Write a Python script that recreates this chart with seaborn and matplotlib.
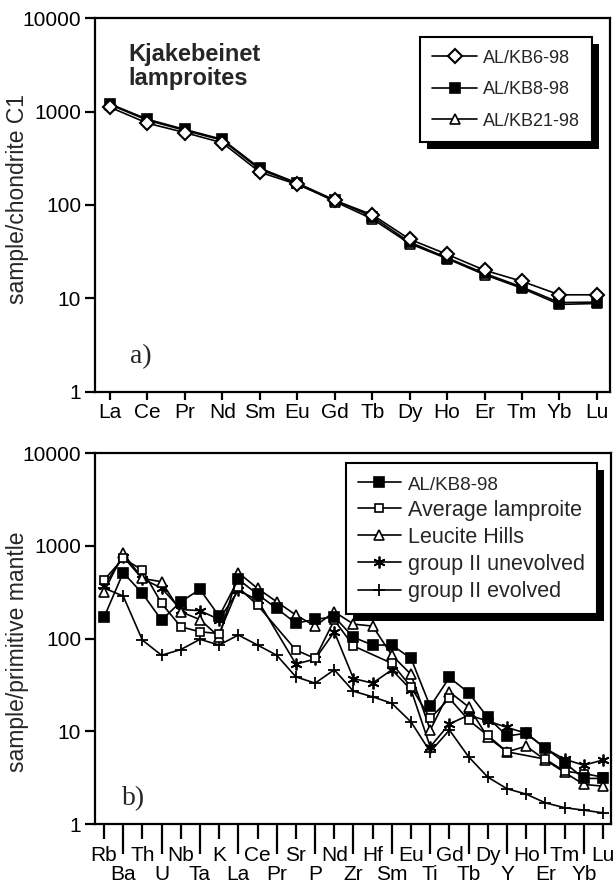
import numpy as np
import pandas as pd
import matplotlib
matplotlib.use("Agg")
import matplotlib.pyplot as plt
import seaborn as sns
from matplotlib.patches import Rectangle
from matplotlib.ticker import FixedLocator, NullLocator

# ---------------- data ----------------
ree = ["La", "Ce", "Pr", "Nd", "Sm", "Eu", "Gd", "Tb", "Dy", "Ho", "Er", "Tm", "Yb", "Lu"]
kb6_98 = [1116, 753, 597, 464, 225, 166, 112, 78.7, 43, 29.6, 20, 15.2, 10.9, 10.9]
kb8_98 = [1210, 830, 645, 505, 248, 172, 113, 75, 40, 27.2, 18.5, 13.2, 9.0, 9.1]
kb21_98 = [1190, 810, 630, 495, 240, 170, 109, 71, 38.6, 26.6, 17.9, 12.8, 8.6, 8.8]

spider = ["Rb", "Ba", "Th", "U", "Nb", "Ta", "K", "La", "Ce", "Pr", "Sr", "P", "Nd", "Zr",
          "Hf", "Sm", "Eu", "Ti", "Gd", "Tb", "Dy", "Y", "Ho", "Er", "Tm", "Yb", "Lu"]
kb8_pm = [169, 513, 306, 158, 249, 338, 174, 434, 300, 211, 146, 161, 171, 103,
          85, 85, 61, 18.5, 38, 26, 14.1, 8.9, 9.5, 6.6, 4.6, 3.1, 3.1]
avg_lamproite = [427, 730, 546, 239, 134, 118, 113, 355, 229, np.nan, 75, 61, 158, 83,
                 np.nan, 54, 30, 13.8, 22.6, 13.2, 9.0, 6.0, np.nan, 5.0, 3.7, 3.5, 3.2]
leucite_hills = [319, 826, 444, 409, 194, 160, 104, 512, 347, 249, 179, 136, 194, 143,
                 136, 66, 41, 10.3, 26.6, 18.3, 8.6, 6.0, 6.9, 4.9, 3.6, 2.67, 2.56]
group2_unevolved = [370, 760, 440, 350, 205, 200, 160, 330, 260, np.nan, 53, 60, 118, 37,
                    33, 46, 28, 6.8, 12, 14.9, 12.9, 11, 9.5, 6.5, 5.0, 4.3, 4.9]
group2_evolved = [350, 287, 96, 66, 76, 98, 85, 109, 85, 66, 38.6, 33, 46, 27,
                  23.5, 20, 12.6, 6.0, 10.3, 5.3, 3.2, 2.4, 2.1, 1.69, 1.5, 1.41, 1.32]

ytick_vals = [1, 10, 100, 1000, 10000]
ytick_labels = ["1", "10", "100", "1000", "10000"]

# ---------------- style ----------------
sns.set_style("ticks")
plt.rcParams["font.family"] = ["Liberation Sans", "DejaVu Sans"]
plt.rcParams["axes.linewidth"] = 1.6

W, H = 614, 886
fig = plt.figure(figsize=(W / 100, H / 100), dpi=100)

def px_axes(left, top, right, bottom):
    return fig.add_axes([left / W, 1 - bottom / H, (right - left) / W, (bottom - top) / H])

ax1 = px_axes(95, 18.4, 610, 391.6)
ax2 = px_axes(95, 453, 611, 824)

def draw(ax, cats, vals, label, marker, ms, mfc, mew=1.2, lw=1.2):
    df = pd.DataFrame({"x": np.arange(len(cats)), "y": vals}).dropna()
    sns.lineplot(data=df, x="x", y="y", ax=ax, color="black", sort=False,
                 marker=marker, markersize=ms, markerfacecolor=mfc,
                 markeredgecolor="black", markeredgewidth=mew, linewidth=lw,
                 label=label, legend=False)
    return ax.lines[-1]

asterisk = (6, 2, 0)

# ---------------- panel a ----------------
h21 = draw(ax1, ree, kb21_98, "AL/KB21-98", "^", 7.5, "white")
h8 = draw(ax1, ree, kb8_98, "AL/KB8-98", "s", 6.5, "black")
h6 = draw(ax1, ree, kb6_98, "AL/KB6-98", "D", 7, "white", mew=1.5)

# ---------------- panel b ----------------
hev = draw(ax2, spider, group2_evolved, "group II evolved", "+", 8, "black", mew=1.3)
hun = draw(ax2, spider, group2_unevolved, "group II unevolved", asterisk, 8.5, "black", mew=1.3)
hlh = draw(ax2, spider, leucite_hills, "Leucite Hills", "^", 7, "white")
hav = draw(ax2, spider, avg_lamproite, "Average lamproite", "s", 5.5, "white")
hkb = draw(ax2, spider, kb8_pm, "AL/KB8-98", "s", 7, "black")

for ax in (ax1, ax2):
    ax.set_yscale("log")
    ax.set_ylim(1, 10000)
    ax.yaxis.set_major_locator(FixedLocator(ytick_vals))
    ax.yaxis.set_minor_locator(NullLocator())
    ax.set_yticklabels(ytick_labels)
    ax.set_xlabel("")
    for s in ax.spines.values():
        s.set_linewidth(1.6)
        s.set_color("black")
    ax.tick_params(axis="y", which="major", direction="out", length=7.5, width=1.6,
                   pad=2.5, labelsize=15, colors="black")

# x axis panel a
ax1.set_xlim(-0.4, 13.35)
ax1.set_xticks(np.arange(len(ree)))
ax1.set_xticklabels(ree)
ax1.xaxis.set_minor_locator(NullLocator())
ax1.tick_params(axis="x", which="major", direction="out", length=6, width=1.6,
                pad=2, labelsize=15, colors="black")

# x axis panel b: two rows of labels
ax2.set_xlim(-0.47, 26.42)
even = np.arange(0, len(spider), 2)
odd = np.arange(1, len(spider), 2)
ax2.set_xticks(even)
ax2.set_xticklabels([spider[i] for i in even])
ax2.set_xticks(odd, minor=True)
ax2.set_xticklabels([spider[i] for i in odd], minor=True)
ax2.tick_params(axis="x", which="major", direction="out", length=10.5, width=1.6,
                pad=5, labelsize=15, colors="black")
ax2.tick_params(axis="x", which="minor", direction="out", length=21.5, width=1.6,
                pad=8, labelsize=15, colors="black")

ax1.set_ylabel("sample/chondrite C1", fontsize=16.5)
ax2.set_ylabel("sample/primitive mantle", fontsize=16.5)
ax1.yaxis.set_label_coords(-0.128, 0.515)
ax2.yaxis.set_label_coords(-0.128, 0.465)

# annotations
ax1.text(0.065, 0.935, "Kjakebeinet\nlamproites", transform=ax1.transAxes,
         fontsize=17, fontweight="bold", va="top", ha="left", linespacing=1.1)
ax1.text(0.068, 0.06, "a)", transform=ax1.transAxes, fontsize=20,
         family=["Liberation Serif", "DejaVu Serif"], va="bottom", ha="left")
ax2.text(0.053, 0.035, "b)", transform=ax2.transAxes, fontsize=20,
         family=["Liberation Serif", "DejaVu Serif"], va="bottom", ha="left")

# legends
leg1 = ax1.legend([h6, h8, h21], ["AL/KB6-98", "AL/KB8-98", "AL/KB21-98"],
                  loc="upper right", bbox_to_anchor=(0.966, 0.95), borderaxespad=0,
                  fontsize=13, frameon=True, fancybox=False, framealpha=1,
                  edgecolor="black", handlelength=2.5, handletextpad=0.3,
                  labelspacing=0.8, borderpad=0.7)
leg1.get_frame().set_linewidth(1.5)

leg2 = ax2.legend([hkb, hav, hlh, hun, hev],
                  ["AL/KB8-98", "Average lamproite", "Leucite Hills",
                   "group II unevolved", "group II evolved"],
                  loc="upper right", bbox_to_anchor=(0.973, 0.973), borderaxespad=0,
                  fontsize=15.5, frameon=True, fancybox=False, framealpha=1,
                  edgecolor="black", handlelength=2.0, handletextpad=0.35,
                  labelspacing=0.28, borderpad=0.55)
leg2.get_frame().set_linewidth(1.5)
leg2.get_texts()[0].set_fontsize(13.5)

# drop shadows behind legends
fig.canvas.draw()
inv = fig.transFigure.inverted()
for ax, leg in ((ax1, leg1), (ax2, leg2)):
    bb = leg.get_window_extent()
    off = 7
    (x0, y0) = inv.transform((bb.x0 + off, bb.y0 - off))
    (x1, y1) = inv.transform((bb.x1 + off, bb.y1 - off))
    rect = Rectangle((x0, y0), x1 - x0, y1 - y0, transform=fig.transFigure,
                     facecolor="black", edgecolor="none", zorder=4.9, clip_on=False)
    ax.add_artist(rect)

fig.savefig("out.png", dpi=100, facecolor="white")
